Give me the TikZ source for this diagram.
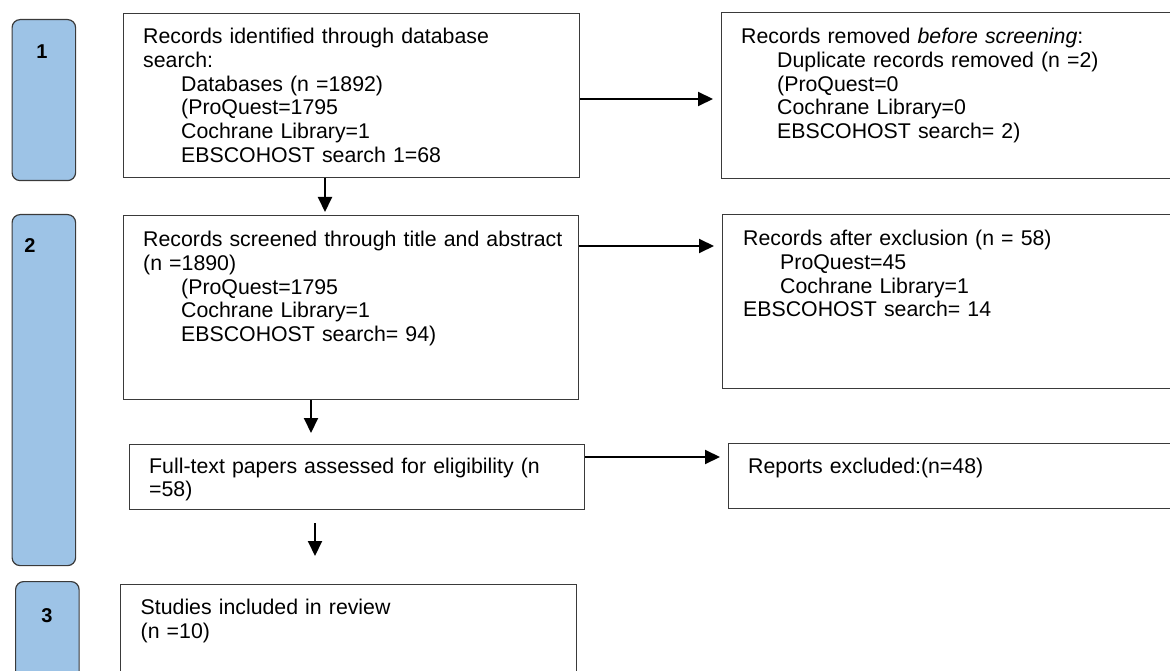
\documentclass[tikz,border=0pt]{standalone}
\usepackage{fontspec}
\setmainfont{Liberation Sans}
\usetikzlibrary{arrows.meta}
\definecolor{stageblue}{HTML}{9DC3E6}
\definecolor{edgegray}{HTML}{3A3A3A}
\begin{document}
\begin{tikzpicture}[x=1pt,y=-1pt,
  stagebox/.style={draw=edgegray, line width=1.2pt, fill=stageblue, rounded corners=8pt,
    rectangle, inner sep=0pt, anchor=north west},
  flowbox/.style={draw=edgegray, line width=1.2pt, fill=white, rectangle, inner sep=0pt,
    anchor=north west},
  txt/.style={anchor=base west, inner sep=0pt, align=left, text width=440pt,
    font=\fontsize{21.3}{23.8}\selectfont},
  num/.style={inner sep=0pt, font=\fontsize{20}{22}\selectfont\bfseries},
  arr/.style={line width=2pt, -{Triangle[length=15pt,width=14pt]}}]
\useasboundingbox (0,0) rectangle (1170,671);
\clip (0,0) rectangle (1170,671);
\fill[white] (0,0) rectangle (1170,671);

% stage bars
\node[stagebox, minimum width=63.5pt, minimum height=161pt] (s1) at (11.5,19) {};
\node[stagebox, minimum width=63.5pt, minimum height=351pt] (s2) at (11.5,214) {};
\node[stagebox, minimum width=63.5pt, minimum height=140pt] (s3) at (15,581) {};
\node[num] (n1) at (42,52) {1};
\node[num] (n2) at (30,246) {2};
\node[num] (n3) at (47,616) {3};

% flow boxes
\node[flowbox, minimum width=456pt, minimum height=164pt] (A) at (123,13) {};
\node[flowbox, minimum width=470pt, minimum height=166pt] (B) at (721,12) {};
\node[flowbox, minimum width=455pt, minimum height=184pt] (C) at (123,215) {};
\node[flowbox, minimum width=470pt, minimum height=174pt] (D) at (722,214) {};
\node[flowbox, minimum width=455pt, minimum height=65pt] (E) at (129,444) {};
\node[flowbox, minimum width=470pt, minimum height=65pt] (F) at (728,443) {};
\node[flowbox, minimum width=456pt, minimum height=120pt] (G) at (120,584) {};

% texts
\node[txt] (At) at (143,43.5) {Records identified through database\\
search:\\
\hspace*{38pt}Databases (n =1892)\\
\hspace*{38pt}(ProQuest=1795\\
\hspace*{38pt}Cochrane Library=1\\
\hspace*{38pt}EBSCOHOST search 1=68};

\node[txt] (Bt) at (741,43.5) {Records removed \textit{before screening}:\\
\hspace*{36pt}Duplicate records removed (n =2)\\
\hspace*{36pt}(ProQuest=0\\
\hspace*{36pt}Cochrane Library=0\\
\hspace*{36pt}EBSCOHOST search= 2)};

\node[txt] (Ct) at (143,246.5) {Records screened through title and abstract\\
(n =1890)\\
\hspace*{38pt}(ProQuest=1795\\
\hspace*{38pt}Cochrane Library=1\\
\hspace*{38pt}EBSCOHOST search= 94)};

\node[txt] (Dt) at (743,245.5) {Records after exclusion (n = 58)\\
\hspace*{37pt}ProQuest=45\\
\hspace*{37pt}Cochrane Library=1\\
EBSCOHOST search= 14};

\node[txt] (Et) at (149,473) {Full-text papers assessed for eligibility (n\\
=58)};

\node[txt] (Ft) at (748,473.5) {Reports excluded:(n=48)};

\node[txt] (Gt) at (140.5,614.5) {Studies included in review\\
(n =10)};

% guide coordinates for connector lines
\coordinate (yAB) at (0,99);
\coordinate (xAC) at (325,0);
\coordinate (yCD) at (0,246);
\coordinate (xCE) at (311,0);
\coordinate (yEF) at (0,457);
\coordinate (xEG) at (315,0);
\coordinate (g0) at (315,556);

% connectors
\draw[arr, shorten >=8pt] (A.east |- yAB) -- (B.west |- yAB);
\draw[arr, shorten >=3pt] (A.south -| xAC) -- (C.north -| xAC);
\draw[arr, shorten >=8pt] (C.east |- yCD) -- (D.west |- yCD);
\draw[arr, shorten >=11pt] (C.south -| xCE) -- (E.north -| xCE);
\draw[arr, shorten >=8pt] (E.east |- yEF) -- (F.west |- yEF);
\draw[arr, shorten <=13pt] (E.south -| xEG) -- (g0);
\end{tikzpicture}
\end{document}
